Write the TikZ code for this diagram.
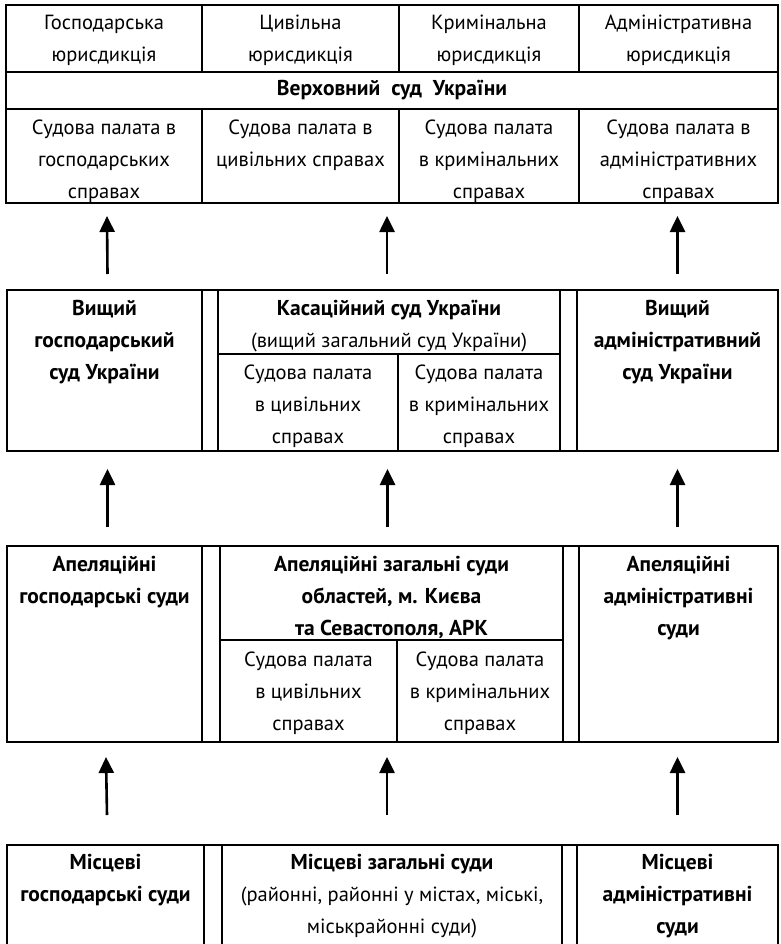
\documentclass[tikz,border=0pt]{standalone}
\usepackage{fontspec}
\setmainfont{PT Sans}
\usetikzlibrary{positioning,arrows.meta}

\begin{document}
\begin{tikzpicture}[x=1pt, y=-1pt,
    cell/.style 2 args={draw, line width=1.5pt, minimum width=#1pt, minimum height=#2pt,
        anchor=north west, inner sep=0pt, outer sep=0pt},
    txt/.style={align=center, inner sep=0pt, font=\fontsize{20.5}{32}\selectfont},
    bf/.style={txt, font=\fontsize{21.5}{32}\selectfont\bfseries},
    arr/.style={line width=2.6pt, -{Triangle[length=16pt,width=15pt]}}]
\useasboundingbox (0,0) rectangle (780,944);
\clip (0,0) rectangle (780,944);

% Верховний суд
\node[cell={196}{67}] (gj) at (6,5) {};
\node[cell={197}{67}] (cj) at (202,5) {};
\node[cell={180}{67}] (kj) at (399,5) {};
\node[cell={199}{67}] (aj) at (579,5) {};
\node[cell={772}{37}, bf] (vsu) at (6,72) {Верховний\ \ суд\ \ України};
\node[cell={196}{94}] (gp) at (6,109) {};
\node[cell={197}{94}] (cp) at (202,109) {};
\node[cell={180}{94}] (kp) at (399,109) {};
\node[cell={199}{94}] (ap) at (579,109) {};
\node[txt, below=10pt of gj.north] (tgj) {Господарська\\юрисдикція};
\node[txt, below=10pt of cj.north] (tcj) {Цивільна\\юрисдикція};
\node[txt, below=10pt of kj.north] (tkj) {Кримінальна\\юрисдикція};
\node[txt, below=10pt of aj.north] (taj) {Адміністративна\\юрисдикція};
\node[txt, below=11pt of gp.north] (tgp) {Судова палата в\\господарських\\справах};
\node[txt, below=11pt of cp.north] (tcp) {Судова палата в\\цивільних справах};
\node[txt, below=11pt of kp.north] (tkp) {Судова палата\\в кримінальних\\справах};
\node[txt, below=11pt of ap.north] (tap) {Судова палата в\\адміністративних\\справах};

% вищі суди
\node[cell={195}{161}] (vgs) at (7,290) {};
\node[cell={16}{161}] (s21) at (202,290) {};
\node[cell={342}{64}] (ksu) at (218,290) {};
\node[cell={180}{97}] (kcp) at (218,354) {};
\node[cell={162}{97}] (kkp) at (398,354) {};
\node[cell={17}{161}] (s22) at (560,290) {};
\node[cell={201}{161}] (vas) at (577,290) {};
\node[bf, below=10pt of vgs.north] (tvgs) {Вищий\\господарський\\суд України};
\node[txt, below=10pt of ksu.north] (tksu) {{\fontsize{21.5}{32}\selectfont\bfseries Касаційний суд України}\\(вищий загальний суд України)};
\node[txt, below=11pt of kcp.north] (tkcp) {Судова палата\\в цивільних\\справах};
\node[txt, below=11pt of kkp.north] (tkkp) {Судова палата\\в кримінальних\\справах};
\node[bf, below=10pt of vas.north] (tvas) {Вищий\\адміністративний\\суд України};

% апеляційні суди
\node[cell={195}{196}] (ags) at (7,546) {};
\node[cell={18}{196}] (s31) at (202,546) {};
\node[cell={343}{94}] (azs) at (220,546) {};
\node[cell={177}{102}] (acp) at (220,640) {};
\node[cell={166}{102}] (akp) at (397,640) {};
\node[cell={16}{196}] (s32) at (563,546) {};
\node[cell={199}{196}] (aas) at (579,546) {};
\node[bf, below=10pt of ags.north] (tags) {Апеляційні\\господарські суди};
\node[bf, below=10pt of azs.north] (tazs) {Апеляційні загальні суди\\областей, м. Києва\\та Севастополя, АРК};
\node[txt, below=12pt of acp.north] (tacp) {Судова палата\\в цивільних\\справах};
\node[txt, below=12pt of akp.north] (takp) {Судова палата\\в кримінальних\\справах};
\node[bf, below=10pt of aas.north] (taas) {Апеляційні\\адміністративні\\суди};

% місцеві суди
\node[cell={197}{105}] (mgs) at (7,845) {};
\node[cell={18}{105}] (s41) at (204,845) {};
\node[cell={340}{105}] (mzs) at (222,845) {};
\node[cell={15}{105}] (s42) at (562,845) {};
\node[cell={201}{105}] (mas) at (577,845) {};
\node[bf, below=9pt of mgs.north] (tmgs) {Місцеві\\господарські суди};
\node[txt, below=9pt of mzs.north] (tmzs) {{\fontsize{21.5}{32}\selectfont\bfseries Місцеві загальні суди}\\(районні, районні у містах, міські,\\міськрайонні суди)};
\node[bf, below=9pt of mas.north] (tmas) {Місцеві\\адміністративні\\суди};

\draw[arr] ([xshift=3pt,yshift=16pt]vgs.north) -- ([xshift=3pt,yshift=-13pt]gp.south);
\draw[arr] ([xshift=-2pt,yshift=16pt]ksu.north) -- ([xshift=-2pt,yshift=-13pt]ksu.north |- cp.south);
\draw[arr] ([yshift=16pt]vas.north) -- ([yshift=-13pt]vas.north |- ap.south);
\draw[arr] ([xshift=3pt,yshift=19pt]ags.north) -- ([xshift=3pt,yshift=-18pt]vgs.south);
\draw[arr] ([xshift=-4pt,yshift=19pt]azs.north) -- ([xshift=-4pt,yshift=-18pt]azs.north |- kcp.south);
\draw[arr] ([xshift=-1pt,yshift=19pt]aas.north) -- ([xshift=-1pt,yshift=-18pt]aas.north |- vas.south);
\draw[arr] ([xshift=1.5pt,yshift=30pt]mgs.north) -- ([xshift=1.5pt,yshift=-15pt]ags.south);
\draw[arr] ([xshift=-5pt,yshift=30pt]mzs.north) -- ([xshift=-5pt,yshift=-15pt]mzs.north |- acp.south);
\draw[arr] ([yshift=30pt]mas.north) -- ([yshift=-15pt]mas.north |- aas.south);
\end{tikzpicture}
\end{document}
